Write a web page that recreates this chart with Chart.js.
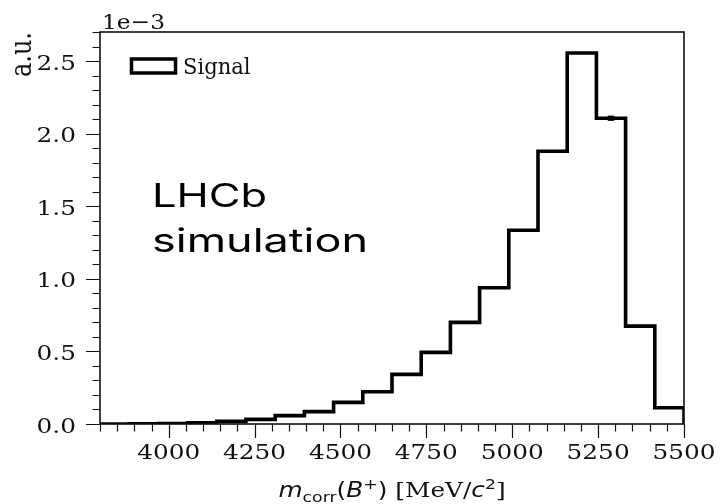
<!DOCTYPE html>
<html>
<head>
<meta charset="utf-8">
<script src="https://cdn.jsdelivr.net/npm/chart.js@4.4.1/dist/chart.umd.min.js"></script>
<style>
  html, body { margin: 0; padding: 0; background: #ffffff; }
  #wrap { width: 720px; height: 504px; }
</style>
</head>
<body>
<div id="wrap"><canvas id="c" width="720" height="504"></canvas></div>
<script>
// Bin edges of the corrected-mass histogram [MeV/c^2]
const binEdges = [3800, 3885, 3970, 4055, 4140, 4225, 4310, 4395, 4480, 4565,
                  4650, 4735, 4820, 4905, 4990, 5075, 5160, 5245, 5330, 5415, 5500];
// Normalised signal content per bin (a.u.)
const signalValues = [0.000e-3, 0.001e-3, 0.003e-3, 0.008e-3, 0.018e-3, 0.032e-3, 0.058e-3,
                      0.085e-3, 0.149e-3, 0.222e-3, 0.342e-3, 0.493e-3, 0.700e-3, 0.938e-3,
                      1.335e-3, 1.879e-3, 2.555e-3, 2.106e-3, 0.674e-3, 0.112e-3];
// Statistical uncertainty per bin (only resolvable ones are non-zero)
const signalErrors = [0, 0, 0, 0, 0, 0, 0, 0, 0, 0, 0, 0, 0, 0, 0, 0, 0, 0.018e-3, 0, 0];
// Axis ticks
const xMajorTicks = [4000, 4250, 4500, 4750, 5000, 5250, 5500];
const yMajorTicks = [0, 0.5e-3, 1.0e-3, 1.5e-3, 2.0e-3, 2.5e-3];
const yTickLabels = ['0.0', '0.5', '1.0', '1.5', '2.0', '2.5'];
const xRange = [3800, 5500];
const yRange = [0, 2.7e-3];
const xMinorStep = 50;
const yMinorStep = 0.1e-3;

const SERIF = '"DejaVu Serif", "Liberation Serif", serif';
const SANS = '"DejaVu Sans", sans-serif';
const INK = '#111111';
const STRETCH = 1.18;

// Outline points for a step histogram: each edge carries its bin's height,
// and the last edge drops back to the baseline.
const outline = binEdges.map((e, i) => ({ x: e, y: i < signalValues.length ? signalValues[i] : 0 }));

function stretchedText(ctx, text, x, y, font, sx, align) {
  ctx.save();
  ctx.font = font;
  ctx.textAlign = 'left';
  ctx.textBaseline = 'alphabetic';
  const w = ctx.measureText(text).width * sx;
  const x0 = align === 'center' ? x - w / 2 : (align === 'right' ? x - w : x);
  ctx.translate(x0, y);
  ctx.scale(sx, 1);
  ctx.fillText(text, 0, 0);
  ctx.restore();
  return w;
}

function fittedText(ctx, text, x, y, font, width) {
  ctx.save();
  ctx.font = font;
  ctx.textAlign = 'left';
  ctx.textBaseline = 'alphabetic';
  const sx = width / ctx.measureText(text).width;
  ctx.translate(x, y);
  ctx.scale(sx, 1);
  ctx.fillText(text, 0, 0);
  ctx.restore();
}

const decorations = {
  id: 'decorations',
  afterDatasetsDraw(chart) {
    const ctx = chart.ctx;
    const xs = chart.scales.x, ys = chart.scales.y;
    const a = chart.chartArea;

    // error bars
    ctx.save();
    ctx.strokeStyle = '#000';
    ctx.lineWidth = 6.5;
    ctx.lineCap = 'butt';
    signalErrors.forEach((err, i) => {
      if (!err) return;
      const cx = xs.getPixelForValue((binEdges[i] + binEdges[i + 1]) / 2);
      ctx.beginPath();
      ctx.moveTo(cx, ys.getPixelForValue(signalValues[i] - err));
      ctx.lineTo(cx, ys.getPixelForValue(signalValues[i] + err));
      ctx.stroke();
    });
    ctx.restore();

    // frame
    ctx.save();
    ctx.strokeStyle = INK;
    ctx.lineWidth = 1.6;
    ctx.strokeRect(a.left, a.top, a.right - a.left, a.bottom - a.top);

    // ticks
    ctx.lineWidth = 1.2;
    ctx.beginPath();
    for (let v = xRange[0]; v <= xRange[1] + 1e-6; v += xMinorStep) {
      const px = Math.round(xs.getPixelForValue(v)) + 0.5;
      const major = xMajorTicks.includes(v);
      ctx.moveTo(px, a.bottom);
      ctx.lineTo(px, a.bottom + (major ? 14 : 7.5));
    }
    for (let k = 0; k * yMinorStep <= yRange[1] + 1e-9; k++) {
      const v = k * yMinorStep;
      const py = Math.round(ys.getPixelForValue(v)) + 0.5;
      const major = k % 5 === 0;
      ctx.moveTo(a.left, py);
      ctx.lineTo(a.left - (major ? 14 : 7.5), py);
    }
    ctx.stroke();

    // tick labels
    ctx.fillStyle = INK;
    const tickFont = '21px ' + SERIF;
    xMajorTicks.forEach(v => {
      stretchedText(ctx, String(v), xs.getPixelForValue(v), a.bottom + 34.5, tickFont, STRETCH, 'center');
    });
    yMajorTicks.forEach((v, i) => {
      stretchedText(ctx, yTickLabels[i], a.left - 24, ys.getPixelForValue(v) + 8.5, tickFont, STRETCH, 'right');
    });

    // scale multiplier
    stretchedText(ctx, '1e\u22123', a.left + 2, 28.5, tickFont, 1.11, 'left');

    // y label, top aligned
    ctx.save();
    ctx.font = '24px ' + SERIF;
    ctx.textAlign = 'right';
    ctx.textBaseline = 'alphabetic';
    ctx.translate(31, a.top);
    ctx.scale(1.25, 1);
    ctx.rotate(-Math.PI / 2);
    ctx.fillText('a.u.', 0, 0);
    ctx.restore();

    // x label (math-style pieces)
    const big = 21, small = 14.7;
    const pieces = [
      { t: 'm', f: 'italic ' + big + 'px ' + SANS, dy: 0 },
      { t: 'corr', f: small + 'px ' + SANS, dy: 4.5 },
      { t: '(', f: big + 'px ' + SANS, dy: 0 },
      { t: 'B', f: 'italic ' + big + 'px ' + SANS, dy: 0 },
      { t: '+', f: small + 'px ' + SANS, dy: -8.5 },
      { t: ')', f: big + 'px ' + SANS, dy: 0 },
      { t: ' [MeV/', f: big + 'px ' + SERIF, dy: 0 },
      { t: 'c', f: 'italic ' + big + 'px ' + SANS, dy: 0 },
      { t: '2', f: small + 'px ' + SANS, dy: -8.5 },
      { t: ']', f: big + 'px ' + SERIF, dy: 0 }
    ];
    let total = 0;
    pieces.forEach(p => { ctx.font = p.f; p.w = ctx.measureText(p.t).width * STRETCH; total += p.w; });
    let cx = (a.left + a.right) / 2 - total / 2;
    const base = 497;
    pieces.forEach(p => { stretchedText(ctx, p.t, cx, base + p.dy, p.f, STRETCH, 'left'); cx += p.w; });

    // legend
    ctx.lineWidth = 3.5;
    ctx.strokeStyle = '#000';
    ctx.strokeRect(131.5, 59, 44, 14);
    stretchedText(ctx, 'Signal', 183, 73.5, '21.5px ' + SERIF, 0.98, 'left');

    // annotation
    ctx.fillStyle = '#000';
    fittedText(ctx, 'LHCb', 152, 207, '33px Inter, "Open Sans", sans-serif', 115);
    fittedText(ctx, 'simulation', 152, 251.5, '33px Inter, "Open Sans", sans-serif', 216);
    ctx.restore();
  }
};

new Chart(document.getElementById('c'), {
  type: 'line',
  data: {
    datasets: [{
      label: 'Signal',
      data: outline,
      stepped: 'before',
      borderColor: '#000000',
      borderWidth: 3.6,
      pointRadius: 0,
      fill: false,
      borderJoinStyle: 'miter',
      borderCapStyle: 'butt'
    }]
  },
  options: {
    responsive: false,
    devicePixelRatio: 1,
    animation: false,
    layout: { padding: { left: 0, right: 36, top: 32, bottom: 0 } },
    plugins: { legend: { display: false }, tooltip: { enabled: false } },
    scales: {
      x: {
        type: 'linear', min: xRange[0], max: xRange[1],
        grid: { display: false }, border: { display: false },
        ticks: { display: false },
        afterFit(scale) { scale.height = 80; }
      },
      y: {
        type: 'linear', min: yRange[0], max: yRange[1],
        grid: { display: false }, border: { display: false },
        ticks: { display: false },
        afterFit(scale) { scale.width = 100; }
      }
    }
  },
  plugins: [decorations]
});
</script>
</body>
</html>
